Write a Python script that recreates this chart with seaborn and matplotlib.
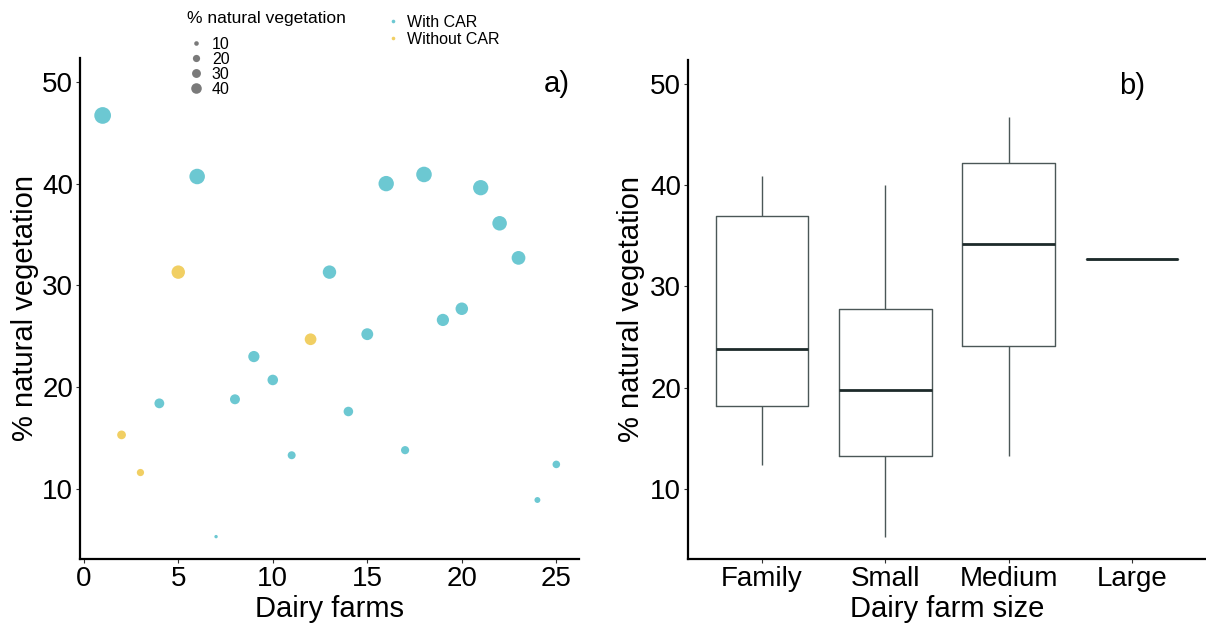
import matplotlib
matplotlib.use("Agg")
import matplotlib.pyplot as plt
from matplotlib.lines import Line2D
import seaborn as sns
import pandas as pd

# ---- data ----
farms = list(range(1, 26))
natural_veg = [46.7, 15.3, 11.6, 18.4, 31.3, 40.7, 5.3, 18.8, 23.0, 20.7,
               13.3, 24.7, 31.3, 17.6, 25.2, 40.0, 13.8, 40.9, 26.6, 27.7,
               39.6, 36.1, 32.7, 8.9, 12.4]
car_status = ["With CAR", "Without CAR", "Without CAR", "With CAR", "Without CAR",
              "With CAR", "With CAR", "With CAR", "With CAR", "With CAR",
              "With CAR", "Without CAR", "With CAR", "With CAR", "With CAR",
              "With CAR", "With CAR", "With CAR", "With CAR", "With CAR",
              "With CAR", "With CAR", "With CAR", "With CAR", "With CAR"]
farm_size = ["Medium", "Small", "Small", "Family", "Small",
             "Medium", "Small", "Small", "Family", "Small",
             "Medium", "Family", "Small", "Family", "Small",
             "Small", "Small", "Family", "Small", "Medium",
             "Family", "Family", "Large", "Small", "Family"]
size_order = ["Family", "Small", "Medium", "Large"]
car_levels = ["With CAR", "Without CAR"]
legend_sizes = [10, 20, 30, 40]

df = pd.DataFrame({"farm": farms, "veg": natural_veg,
                   "car": car_status, "size": farm_size})

sns.set_theme(style="white")
plt.rcParams["font.family"] = ["Liberation Sans", "DejaVu Sans"]
plt.rcParams["text.color"] = "black"
plt.rcParams["axes.labelcolor"] = "black"
plt.rcParams["xtick.color"] = "black"
plt.rcParams["ytick.color"] = "black"

CYAN = "#6cc8d2"
YELLOW = "#f1cf63"
palette = {"With CAR": CYAN, "Without CAR": YELLOW}

fig = plt.figure(figsize=(12.06, 6.33), dpi=100)
ax1 = fig.add_axes([0.0663, 0.1169, 0.4138, 0.7915])
ax2 = fig.add_axes([0.5705, 0.1169, 0.4295, 0.7884])

# ---- panel a ----
sns.scatterplot(data=df, x="farm", y="veg", hue="car", hue_order=car_levels,
                size="veg", sizes=(6, 145), size_norm=(5.3, 46.7),
                palette=palette, linewidth=0, legend=False, ax=ax1)
ax1.set_xlim(-0.2, 26.2)
ax1.set_xticks([0, 5, 10, 15, 20, 25])
ax1.set_xlabel("Dairy farms", fontsize=21, labelpad=2)
ax1.set_ylabel("% natural vegetation", fontsize=21, labelpad=2)
ax1.text(25, 49.8, "a)", fontsize=21, ha="center", va="center")

# ---- panel b ----
sns.boxplot(data=df, x="size", y="veg", order=size_order, ax=ax2,
            fill=False, color="#4b5757", linewidth=1.0, width=0.75,
            showcaps=False, showfliers=False,
            medianprops={"linewidth": 2.0, "color": "#1d2a2a"})
ax2.set_xlim(-0.6, 3.6)
ax2.set_xlabel("Dairy farm size", fontsize=21, labelpad=2)
ax2.set_ylabel("% natural vegetation", fontsize=21, labelpad=4)
ax2.text(3, 49.8, "b)", fontsize=21, ha="center", va="center")

for ax in (ax1, ax2):
    ax.set_ylim(3.1, 52.35)
    ax.set_yticks([10, 20, 30, 40, 50])
    for s in ("top", "right"):
        ax.spines[s].set_visible(False)
    for s in ("left", "bottom"):
        ax.spines[s].set_color("black")
        ax.spines[s].set_linewidth(1.6)
    ax.tick_params(axis="both", labelsize=20, length=3, width=0.8,
                   color="#333333", labelcolor="black", pad=2,
                   left=True, bottom=True)
    ax.grid(False)

# ---- legends ----
fig.text(187 / 1206, 1 - 18 / 633, "% natural vegetation", fontsize=12.5,
         ha="left", va="center")
size_handles = [Line2D([], [], marker="o", linestyle="", color="#7a7a7a",
                       markeredgewidth=0, markersize=ms)
                for ms in (3.3, 5.2, 6.4, 7.6)]
leg1 = ax1.legend(size_handles, [str(v) for v in legend_sizes],
                  fontsize=11.5, loc="upper left",
                  bbox_to_anchor=(189.5 / 1206, 1 - 37 / 633),
                  bbox_transform=fig.transFigure, frameon=False,
                  borderpad=0, borderaxespad=0, labelspacing=0.0,
                  handlelength=0.8, handletextpad=0.6)
ax1.add_artist(leg1)
car_handles = [Line2D([], [], marker="o", linestyle="", color=palette[c],
                      markeredgewidth=0, markersize=2.6) for c in car_levels]
ax1.legend(car_handles, car_levels, fontsize=11.5, loc="upper left",
           bbox_to_anchor=(386.5 / 1206, 1 - 15 / 633),
           bbox_transform=fig.transFigure, frameon=False,
           borderpad=0, borderaxespad=0, labelspacing=0.12,
           handlelength=0.8, handletextpad=0.47)

fig.savefig("out.png", dpi=100)
